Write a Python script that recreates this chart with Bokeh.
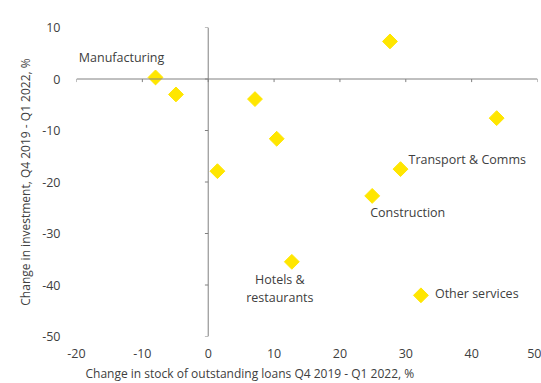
import numpy as np
from bokeh.plotting import figure
from bokeh.models import Range1d, Span, Title, ColumnDataSource, FixedTicker
from bokeh.core.properties import value
from bokeh.embed import file_html
from bokeh.resources import INLINE

# Sector data: change in stock of outstanding loans vs change in investment (%)
sectors = ["Manufacturing", "", "", "", "", "", "",
           "Transport & Comms", "Construction", "Hotels &\nrestaurants", "Other services"]
loans_change = [-8.0, -4.9, 1.4, 7.1, 10.4, 27.6, 43.8, 29.2, 24.9, 12.7, 32.3]
invest_change = [0.3, -3.0, -17.9, -3.9, -11.6, 7.3, -7.6, -17.5, -22.7, -35.5, -42.0]

# Label placement (screen pixel offsets from each point)
label_dx = [-34, 0, 0, 0, 0, 0, 0, 8, -2, -12, 14]
label_dy = [-20, 0, 0, 0, 0, 0, 0, -10, 17, 27, -2]
label_align = ["center", "left", "left", "left", "left", "left", "left",
               "left", "left", "center", "left"]

x_ticks = [-20, -10, 0, 10, 20, 30, 40, 50]
y_ticks = [10, 0, -10, -20, -30, -40, -50]

FONT = "Open Sans"
TEXT = "#404040"
AXIS = "#808080"
YELLOW = "#FFE600"

p = figure(width=541, height=383, output_backend="svg", toolbar_location=None,
           x_range=Range1d(-20, 50), y_range=Range1d(-50, 10),
           min_border_left=76, min_border_right=4, min_border_top=27, min_border_bottom=0)
p.outline_line_color = None
p.grid.grid_line_color = None
p.background_fill_color = "white"
p.border_fill_color = "white"

for ax, ticks in ((p.xaxis[0], x_ticks), (p.yaxis[0], y_ticks)):
    ax.ticker = FixedTicker(ticks=ticks)
    ax.major_label_overrides = {t: str(t) for t in ticks}  # plain hyphen minus
    ax.axis_line_color = None
    ax.major_tick_line_color = None
    ax.minor_tick_line_color = None
    ax.major_label_text_font = FONT
    ax.major_label_text_font_size = "12.5px"
    ax.major_label_text_color = TEXT
p.xaxis.major_label_standoff = 6
p.yaxis.major_label_standoff = 10

# Axis titles
p.add_layout(Title(text="Change in investment, Q4 2019 - Q1 2022, %", align="center",
                   offset=36, standoff=11, text_font=FONT, text_font_size="12px",
                   text_font_style="normal", text_color=TEXT), "left")
p.add_layout(Title(text="Change in stock of outstanding loans Q4 2019 - Q1 2022, %",
                   align="left", offset=9, standoff=4, text_font=FONT,
                   text_font_size="12px", text_font_style="normal", text_color=TEXT),
             "below")

# Axes crossing at the origin
p.add_layout(Span(location=0, dimension="width", line_color=AXIS, line_width=1))
p.add_layout(Span(location=0, dimension="height", line_color=AXIS, line_width=1))
xt = np.array(x_ticks, dtype=float)
yt = np.array(y_ticks, dtype=float)
p.segment(x0=xt, y0=np.zeros_like(xt), x1=xt, y1=np.full_like(xt, -0.6),
          line_color=AXIS, line_width=1)
p.segment(x0=np.zeros_like(yt), y0=yt, x1=np.full_like(yt, -0.5), y1=yt,
          line_color=AXIS, line_width=1)

src = ColumnDataSource(dict(x=loans_change, y=invest_change, name=sectors,
                            dx=label_dx, dy=label_dy, align=label_align))
p.scatter("x", "y", source=src, marker="square", size=10.5, angle=np.pi / 4,
          fill_color=YELLOW, line_color=YELLOW)
p.text("x", "y", text="name", source=src, x_offset="dx", y_offset="dy",
       text_align="align", text_baseline="middle", text_font=value(FONT),
       text_font_size="12.5px", text_color=TEXT, text_line_height=1.05)

open("out.html", "w").write(file_html(p, INLINE))
